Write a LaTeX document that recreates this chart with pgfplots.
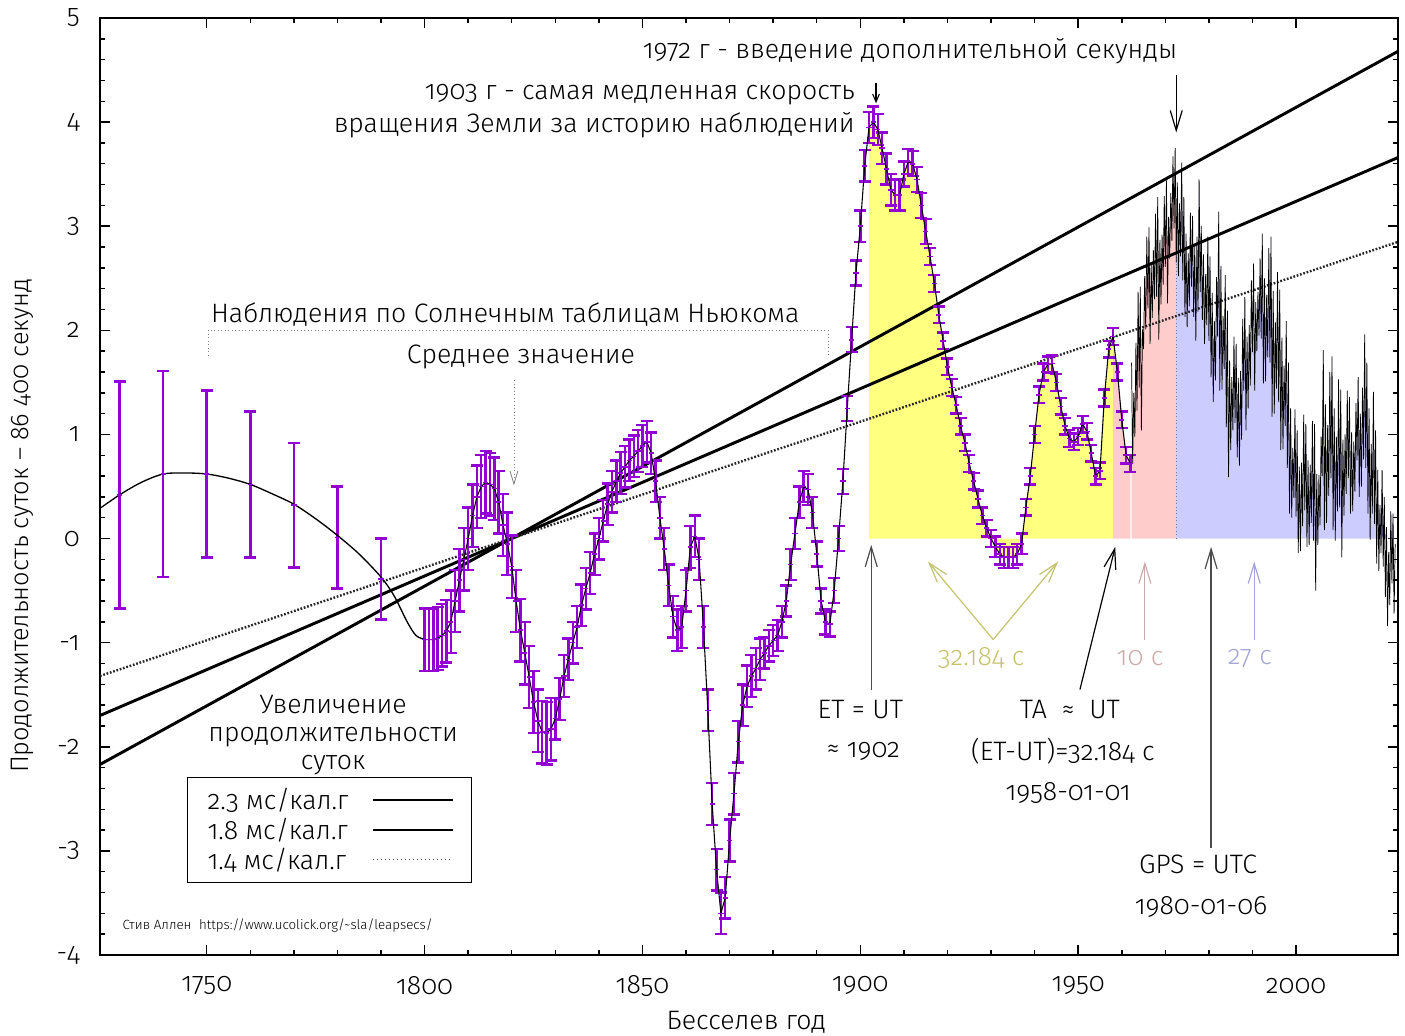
\documentclass[border=0pt]{standalone}
\usepackage{fontspec}
\setmainfont{Fira Sans Light}[Numbers=OldStyle]
\usepackage{pgfplots}
\pgfplotsset{compat=1.18}
\usepackage{pgfplotstable}
\usetikzlibrary{arrows.meta}
\definecolor{dviolet}{RGB}{148,0,211}
\definecolor{fyellow}{RGB}{255,255,128}
\definecolor{fpink}{RGB}{255,204,204}
\definecolor{fblue}{RGB}{204,204,255}
\definecolor{tolive}{RGB}{195,195,110}
\definecolor{tpink}{RGB}{205,170,170}
\definecolor{tblue}{RGB}{165,165,215}

\pgfplotstableread{
yr v e
1730 0.42 1.09
1740 0.62 0.99
1750 0.62 0.80
1760 0.52 0.70
1770 0.32 0.60
1780 0.01 0.49
1790 -0.39 0.39
}\early

\pgfplotstableread{
yr v
1725.5 0.29
1730 0.42
1735 0.54
1740 0.62
1745 0.63
1750 0.62
1755 0.58
1760 0.52
1765 0.43
1770 0.33
1775 0.19
1780 0.03
1785 -0.15
1790 -0.37
1793 -0.55
1796 -0.80
1798 -0.93
1800 -0.97
}\earlycurve

\pgfplotstableread{
yr v e
1800 -0.97 0.3
1801 -0.97 0.3
1802 -0.97 0.3
1803 -0.96 0.3
1804 -0.93 0.3
1805 -0.89 0.3
1806 -0.80 0.3
1807 -0.60 0.3
1808 -0.40 0.3
1809 -0.20 0.3
1810 0.00 0.3
1811 0.22 0.3
1812 0.40 0.3
1813 0.50 0.3
1814 0.54 0.3
1815 0.52 0.3
1816 0.48 0.3
1817 0.35 0.3
1818 0.13 0.3
1819 -0.05 0.3
1820 -0.27 0.3
1821 -0.60 0.3
1822 -0.88 0.3
1823 -1.10 0.3
1824 -1.33 0.3
1825 -1.57 0.3
1826 -1.75 0.3
1827 -1.86 0.3
1828 -1.87 0.3
1829 -1.83 0.3
1830 -1.73 0.2
1831 -1.54 0.2
1832 -1.32 0.2
1833 -1.16 0.2
1834 -1.00 0.2
1835 -0.85 0.2
1836 -0.64 0.2
1837 -0.48 0.2
1838 -0.33 0.2
1839 -0.15 0.2
1840 0.00 0.2
1841 0.17 0.2
1842 0.33 0.2
1843 0.45 0.2
1844 0.55 0.2
1845 0.63 0.2
1846 0.69 0.2
1847 0.75 0.2
1848 0.79 0.2
1849 0.84 0.2
1850 0.89 0.2
1851 0.93 0.2
1852 0.82 0.2
1853 0.55 0.2
1854 0.20 0.2
1855 -0.10 0.2
1856 -0.45 0.2
1857 -0.75 0.2
1858 -0.88 0.2
1859 -0.85 0.2
1860 -0.50 0.2
1861 -0.08 0.2
1862 0.02 0.2
1863 -0.20 0.2
1864 -0.85 0.2
1865 -1.65 0.2
1866 -2.55 0.2
1867 -3.18 0.2
1868 -3.60 0.2
1869 -3.45 0.2
1870 -2.90 0.2
1871 -2.45 0.2
1872 -1.95 0.2
1873 -1.60 0.2
1874 -1.42 0.2
1875 -1.32 0.2
1876 -1.25 0.2
1877 -1.16 0.2
1878 -1.10 0.15
1879 -1.03 0.15
1880 -0.98 0.15
1881 -0.93 0.15
1882 -0.80 0.15
1883 -0.60 0.15
1884 -0.25 0.15
1885 0.05 0.15
1886 0.35 0.15
1887 0.50 0.15
1888 0.47 0.15
1889 0.25 0.15
1890 -0.15 0.12
1891 -0.60 0.12
1892 -0.80 0.12
1893 -0.82 0.12
1894 -0.50 0.12
1895 0.00 0.12
1896 0.55 0.12
1897 1.25 0.12
1898 1.91 0.12
1899 2.55 0.12
1900 3.00 0.15
1901 3.58 0.15
1902 3.95 0.15
1903 4.00 0.15
1904 3.93 0.15
1905 3.75 0.15
1906 3.55 0.15
1907 3.35 0.15
1908 3.30 0.15
1909 3.30 0.15
1910 3.50 0.12
1911 3.62 0.12
1912 3.60 0.12
1913 3.45 0.12
1914 3.20 0.12
1915 2.95 0.12
1916 2.71 0.08
1917 2.45 0.08
1918 2.15 0.08
1919 1.90 0.08
1920 1.65 0.08
1921 1.45 0.08
1922 1.28 0.08
1923 1.08 0.08
1924 0.92 0.08
1925 0.72 0.08
1926 0.55 0.08
1927 0.38 0.08
1928 0.22 0.08
1929 0.10 0.08
1930 0.00 0.08
1931 -0.08 0.1
1932 -0.15 0.1
1933 -0.18 0.1
1934 -0.18 0.1
1935 -0.18 0.1
1936 -0.15 0.1
1937 -0.05 0.1
1938 0.30 0.08
1939 0.60 0.08
1940 1.00 0.08
1941 1.38 0.08
1942 1.60 0.08
1943 1.67 0.08
1944 1.68 0.08
1945 1.50 0.08
1946 1.27 0.08
1947 1.08 0.08
1948 0.96 0.08
1949 0.93 0.08
1950 0.98 0.08
1951 1.10 0.08
1952 1.03 0.08
1953 0.82 0.08
1954 0.60 0.08
1955 0.65 0.08
1956 1.35 0.08
1957 1.82 0.08
1958 1.94 0.08
1959 1.60 0.08
1960 1.14 0.08
1961 0.80 0.08
1962 0.72 0.08
}\obs

\pgfplotstableread{
yr v
1962.25 1.69
1962.50 0.72
1962.75 1.40
1963.00 0.98
1963.25 1.88
1963.50 1.23
1963.75 2.37
1964.00 1.45
1964.25 2.42
1964.50 1.04
1964.75 2.01
1965.00 1.82
1965.25 2.52
1965.50 2.01
1965.75 2.90
1966.00 2.21
1966.25 2.99
1966.50 1.87
1966.75 2.65
1967.00 2.12
1967.25 2.77
1967.50 2.30
1967.75 3.12
1968.00 2.32
1968.25 3.28
1968.50 1.91
1968.75 2.87
1969.00 2.25
1969.25 2.92
1969.50 2.44
1969.75 3.29
1970.00 2.61
1970.25 3.44
1970.50 2.26
1970.75 3.09
1971.00 2.69
1971.25 3.32
1971.50 2.86
1971.75 3.67
1972.00 2.98
1972.25 3.75
1972.50 2.65
1972.75 3.42
1973.00 2.52
1973.25 3.22
1973.50 2.71
1973.75 3.61
1974.00 2.48
1974.25 3.28
1974.50 2.13
1974.75 2.93
1975.00 2.03
1975.25 2.74
1975.50 2.23
1975.75 3.13
1976.00 2.42
1976.25 3.10
1976.50 2.13
1976.75 2.81
1977.00 1.90
1977.25 2.90
1977.50 2.18
1977.75 3.45
1978.00 2.37
1978.25 3.00
1978.50 2.10
1978.75 2.73
1979.00 1.87
1979.25 2.54
1979.50 2.05
1979.75 2.90
1980.00 1.90
1980.25 2.71
1980.50 1.55
1980.75 2.36
1981.00 1.31
1981.25 2.09
1981.50 1.52
1981.75 2.51
1982.00 1.94
1982.25 3.14
1982.50 1.42
1982.75 2.62
1983.00 1.43
1983.25 2.14
1983.50 1.63
1983.75 2.53
1984.00 1.07
1984.25 2.19
1984.50 0.59
1984.75 1.71
1985.00 0.85
1985.25 1.55
1985.50 1.04
1985.75 1.94
1986.00 1.11
1986.25 1.87
1986.50 0.78
1986.75 1.54
1987.00 0.70
1987.25 1.61
1987.50 0.95
1987.75 2.11
1988.00 1.42
1988.25 2.32
1988.50 1.04
1988.75 1.94
1989.00 1.25
1989.25 2.05
1989.50 1.47
1989.75 2.48
1990.00 1.79
1990.25 2.64
1990.50 1.42
1990.75 2.27
1991.00 1.80
1991.25 2.37
1991.50 1.95
1991.75 2.69
1992.00 1.92
1992.25 2.93
1992.50 1.49
1992.75 2.50
1993.00 1.51
1993.25 2.34
1993.50 1.74
1993.75 2.79
1994.00 1.69
1994.25 2.90
1994.50 1.17
1994.75 2.38
1995.00 1.20
1995.25 2.08
1995.50 1.44
1995.75 2.56
1996.00 1.31
1996.25 2.39
1996.50 0.85
1996.75 1.93
1997.00 0.86
1997.25 1.66
1997.50 1.08
1997.75 2.09
1998.00 0.68
1998.25 1.69
1998.50 0.24
1998.75 1.25
1999.00 0.20
1999.25 0.87
1999.50 0.39
1999.75 1.24
2000.00 0.21
2000.25 1.04
2000.50 -0.14
2000.75 0.69
2001.00 -0.12
2001.25 0.73
2001.50 0.12
2001.75 1.19
2002.00 0.27
2002.25 1.10
2002.50 -0.08
2002.75 0.75
2003.00 -0.06
2003.25 0.71
2003.50 0.15
2003.75 1.13
2004.00 -0.02
2004.25 1.10
2004.50 -0.50
2004.75 0.62
2005.00 -0.06
2005.25 0.61
2005.50 0.13
2005.75 0.98
2006.00 0.60
2006.25 1.81
2006.50 0.08
2006.75 1.29
2007.00 0.15
2007.25 1.09
2007.50 0.41
2007.75 1.60
2008.00 0.58
2008.25 1.75
2008.50 0.08
2008.75 1.25
2009.00 -0.02
2009.25 0.98
2009.50 0.26
2009.75 1.53
2010.00 0.30
2010.25 1.43
2010.50 -0.18
2010.75 0.95
2011.00 0.22
2011.25 1.00
2011.50 0.43
2011.75 1.42
2012.00 0.58
2012.25 1.36
2012.50 0.24
2012.75 1.02
2013.00 0.26
2013.25 0.93
2013.50 0.45
2013.75 1.30
2014.00 0.75
2014.25 1.55
2014.50 0.40
2014.75 1.20
2015.00 0.50
2015.25 1.45
2015.50 0.76
2015.75 1.96
2016.00 0.68
2016.25 1.69
2016.50 0.24
2016.75 1.25
2017.00 -0.01
2017.25 0.91
2017.50 0.24
2017.75 1.41
2018.00 0.14
2018.25 1.04
2018.50 -0.24
2018.75 0.66
2019.00 -0.31
2019.25 0.32
2019.50 -0.14
2019.75 0.66
2020.00 -0.27
2020.25 0.40
2020.50 -0.56
2020.75 0.11
2021.00 -0.84
2021.25 -0.13
2021.50 -0.64
2021.75 0.26
2022.00 -0.43
2022.25 0.24
2022.50 -0.72
2022.75 -0.05
}\modern

\begin{document}
\begin{tikzpicture}[font=\fontsize{20}{24}\selectfont,
  arr/.style={-{Straight Barb[length=15pt,width=9pt]}, line width=0.9pt}]
\begin{axis}[
  scale only axis, width=973.5pt, height=702.75pt,
  xmin=1725.5, xmax=2023.4, ymin=-4, ymax=5,
  xtick={1750,1800,...,2000}, minor x tick num=4,
  ytick={-4,...,5}, minor y tick num=4,
  tick align=inside, major tick length=7.5pt, minor tick length=4pt,
  axis line style={line width=1.1pt}, every tick/.style={line width=1.1pt, black},
  /pgf/number format/assume math mode=true,
  /pgf/number format/1000 sep={},
  xticklabel style={anchor=center, inner sep=0pt, yshift=-23pt},
  yticklabel style={anchor=east, inner sep=0pt, xshift=-15pt},
  xlabel={Бесселев год},
  ylabel={Продолжительность суток – 86 400 секунд},
  xlabel style={at={(axis description cs:0.498,-0.0715)}, anchor=center},
  ylabel style={at={(axis description cs:-0.06,0.458)}, anchor=center, rotate=0,
    font=\fontsize{19}{23}\selectfont},
  clip=false,
  legend plot pos=right,
  legend cell align=left,
  legend style={at={(0.067,0.077)}, anchor=south west, draw=black, line width=0.8pt,
    inner xsep=13pt, inner ysep=6pt, column sep=16pt, row sep=1pt,
    font=\fontsize{20}{24}\selectfont},
  legend image code/.code={\draw[#1] (0pt,0pt) -- (60pt,0pt);},
]
% fills
\addplot[draw=none, fill=fyellow, restrict x to domain=1902:1958, forget plot] table[x=yr,y=v] {\obs} \closedcycle;
\addplot[draw=none, fill=fpink, restrict x to domain=1958:1962, forget plot] table[x=yr,y=v] {\obs} \closedcycle;
\addplot[draw=none, fill=fpink, restrict x to domain=1962:1972.5, y filter/.expression={max(y,0)}, forget plot] table[x=yr,y=v] {\modern} \closedcycle;
\addplot[draw=none, fill=fblue, restrict x to domain=1972.5:2023, y filter/.expression={max(y,0)}, forget plot] table[x=yr,y=v] {\modern} \closedcycle;
\draw[gray, dotted, line width=0.6pt] (axis cs:1972.5,0) -- (axis cs:1972.5,2.9);

% trend lines
\addplot[black, line width=2.2pt, forget plot] coordinates {(1725.5,-2.17) (2023.4,4.68)};
\addplot[black, line width=2.2pt, forget plot] coordinates {(1725.5,-1.70) (2023.4,3.66)};
\addplot[black!85, line width=1.8pt, dash pattern=on 1.3pt off 1.3pt, forget plot] coordinates {(1725.5,-1.32) (2023.4,2.85)};

% error bars
\addplot[only marks, mark=-, dviolet, mark options={line width=1.2pt, mark size=2pt}, forget plot,
  error bars/.cd, y dir=both, y explicit,
  error bar style={line width=1.9pt, dviolet},
  error mark options={rotate=90, mark size=4.5pt, line width=1.9pt, dviolet}]
  table[x=yr, y=v, y error=e] {\early};
\addplot[only marks, mark=-, dviolet, mark options={line width=1.2pt, mark size=2pt}, forget plot,
  error bars/.cd, y dir=both, y explicit,
  error bar style={line width=1.8pt, dviolet},
  error mark options={rotate=90, mark size=4.5pt, line width=1.8pt, dviolet}]
  table[x=yr, y=v, y error=e] {\obs};

% curves
\addplot[black, line width=1pt, smooth, forget plot] table[x=yr,y=v] {\earlycurve};
\addplot[black, line width=0.8pt, forget plot] table[x=yr,y=v] {\obs};
\addplot[black, line width=0.55pt, forget plot] table[x=yr,y=v] {\modern};

% legend
\addlegendimage{black, line width=1.2pt}
\addlegendentry{2.3 мс/кал.г}
\addlegendimage{black, line width=1.2pt}
\addlegendentry{1.8 мс/кал.г}
\addlegendimage{black!70, line width=0.8pt, dash pattern=on 0.8pt off 2.2pt}
\addlegendentry{1.4 мс/кал.г}

% annotations
\node[align=center] at (axis cs:1779,-1.89) {Увеличение\\[-3pt]продолжительности\\[-3pt]суток};
\node[anchor=west, font=\fontsize{10}{12}\selectfont] at (axis cs:1729.6,-3.72) {Стив Аллен\ \ https://www.ucolick.org/\textasciitilde sla/leapsecs/};

\node at (axis cs:1818.5,2.15) {Наблюдения по Солнечным таблицам Ньюкома};
\draw[gray, dotted, line width=0.6pt] (axis cs:1750.3,1.76) -- (axis cs:1750.3,2.0) -- (axis cs:1892.6,2.0) -- (axis cs:1892.6,1.76);
\node at (axis cs:1822.1,1.74) {Среднее значение};
\draw[gray, dotted, line width=0.6pt, -{Straight Barb[length=10pt,width=6pt]}] (axis cs:1820.5,1.52) -- (axis cs:1820.5,0.51);

\node[anchor=east] at (axis cs:1899.8,4.26) {1903 г - самая медленная скорость};
\node[anchor=east] at (axis cs:1899.8,3.97) {вращения Земли за историю наблюдений};
\draw[-{Straight Barb[length=6pt,width=5pt]}, line width=0.8pt] (axis cs:1903.6,4.38) -- (axis cs:1903.6,4.18);

\node at (axis cs:1911.4,4.68) {1972 г - введение дополнительной секунды};
\draw[arr] (axis cs:1972.5,4.45) -- (axis cs:1972.5,3.9);

\draw[arr, black!70] (axis cs:1902.5,-1.45) -- (axis cs:1902.5,-0.06);
\node at (axis cs:1900,-1.64) {ET = UT};
\node at (axis cs:1900.7,-2.04) {≈ 1902};

\draw[arr, tolive] (axis cs:1930.5,-0.97) -- (axis cs:1915.5,-0.22);
\draw[arr, tolive] (axis cs:1930.5,-0.97) -- (axis cs:1945.4,-0.22);
\node[tolive] at (axis cs:1927.7,-1.15) {32.184 с};

\draw[arr] (axis cs:1950.4,-1.45) -- (axis cs:1958.5,-0.08);
\node at (axis cs:1948.1,-1.64) {TA\ \ ≈\ \ UT};
\node at (axis cs:1946.5,-2.04) {(ET-UT)=32.184 с};
\node at (axis cs:1947.7,-2.44) {1958-01-01};

\draw[arr, tpink] (axis cs:1965.3,-0.97) -- (axis cs:1965.3,-0.22);
\node[tpink] at (axis cs:1964.2,-1.15) {10 с};

\draw[arr, black!70] (axis cs:1980.5,-2.97) -- (axis cs:1980.5,-0.08);
\node at (axis cs:1977.5,-3.13) {GPS = UTC};
\node at (axis cs:1978.2,-3.54) {1980-01-06};

\draw[arr, tblue] (axis cs:1990.4,-0.97) -- (axis cs:1990.4,-0.22);
\node[tblue] at (axis cs:1989.4,-1.15) {27 с};
\end{axis}
\pgfresetboundingbox
\path[use as bounding box] (-75pt,-60pt) rectangle (978.75pt,716.25pt);
\end{tikzpicture}
\end{document}
